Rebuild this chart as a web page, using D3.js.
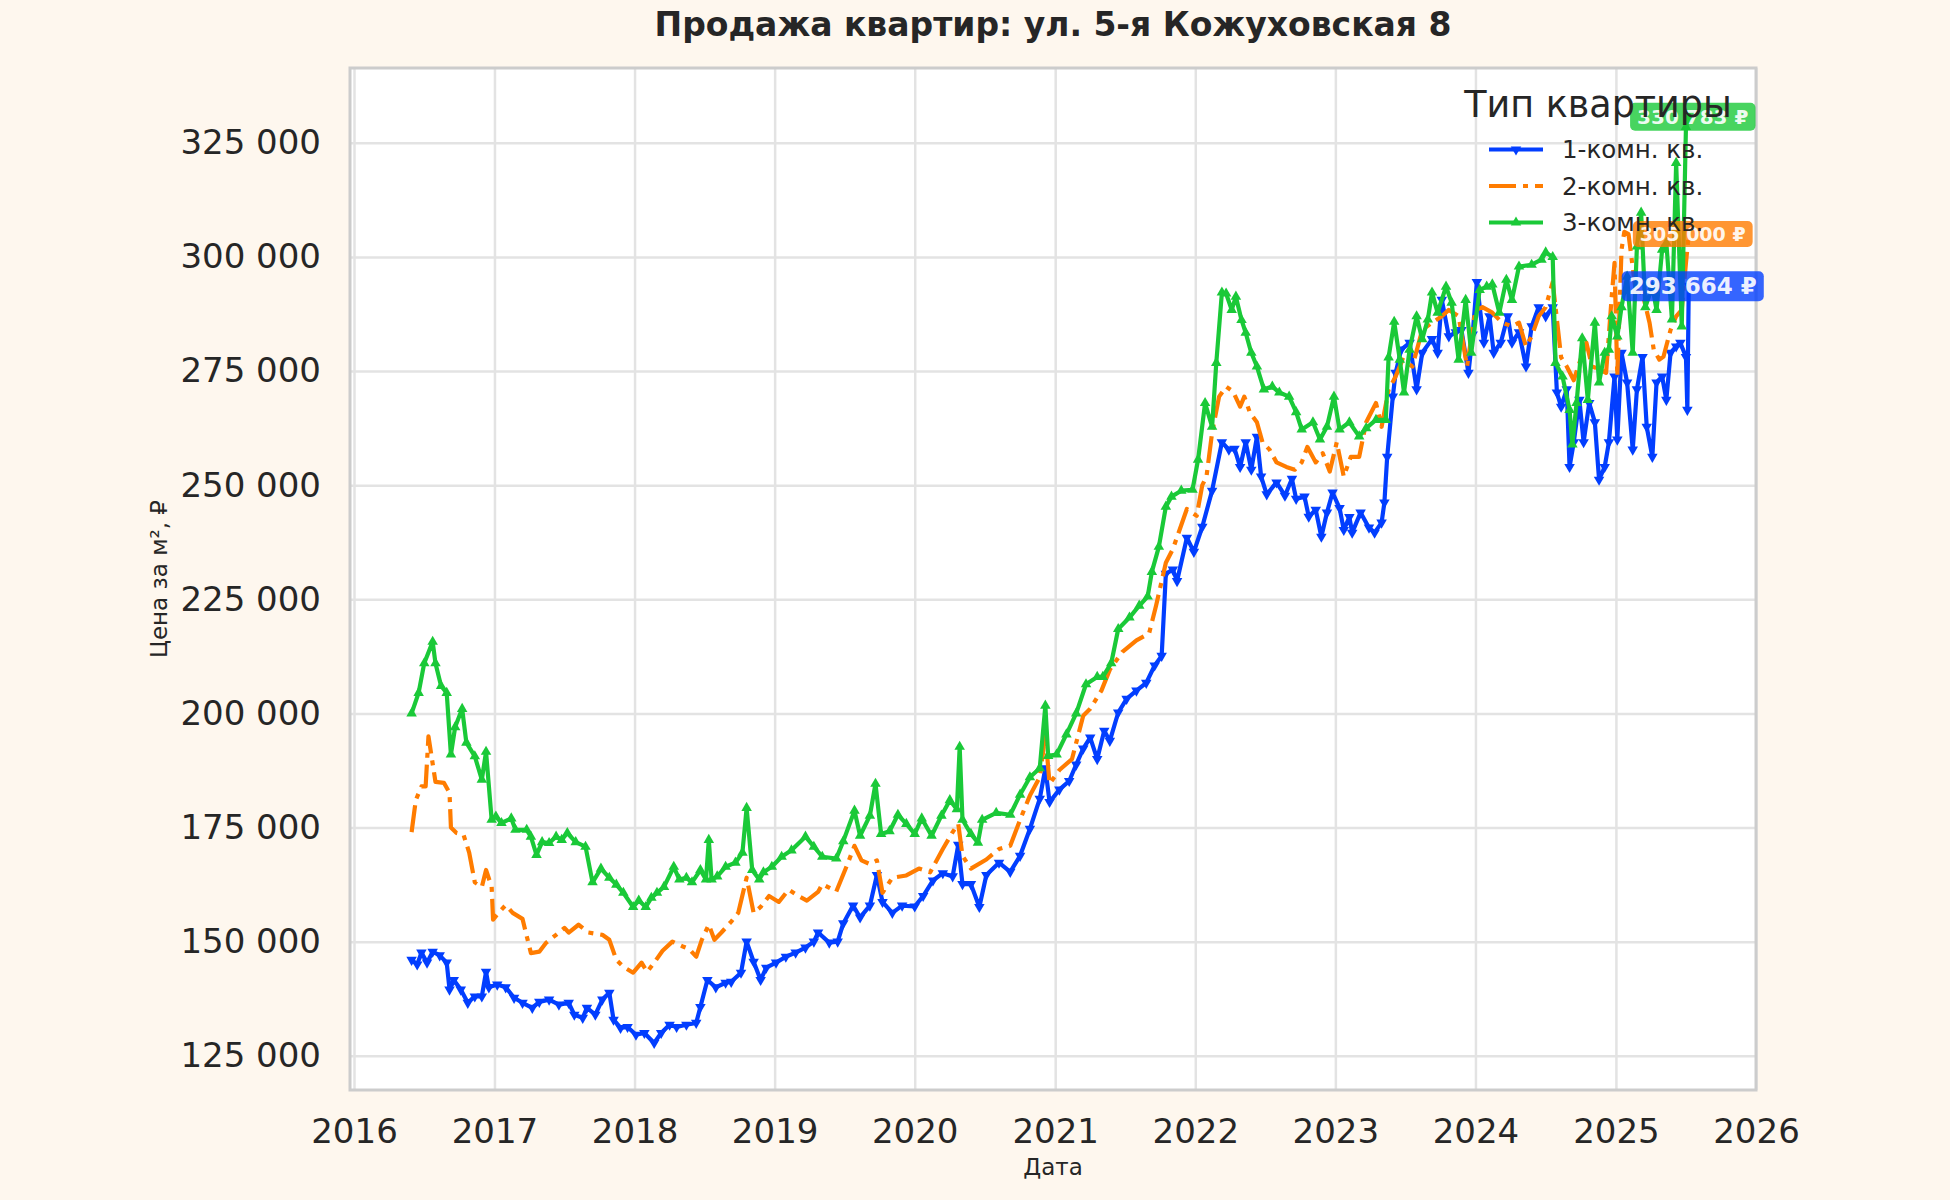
<!DOCTYPE html>
<html>
<head>
<meta charset="utf-8">
<style>
  body { margin: 0; background: #fef7ee; }
  svg { display: block; font-family: "DejaVu Sans", sans-serif; }
</style>
</head>
<body>
<svg id="chart" width="1950" height="1200"></svg>
<script src="https://cdn.jsdelivr.net/npm/d3@7"></script>
<script>

// values: decimal year and price per m2, rubles
var oneRoomT = [2016.41,2016.45,2016.48,2016.52,2016.56,2016.61,2016.66,2016.68,2016.71,2016.76,2016.81,2016.86,2016.91,2016.94,2016.96,
  2017.02,2017.08,2017.14,2017.20,2017.27,2017.32,2017.39,2017.46,2017.53,2017.57,2017.63,2017.66,2017.72,2017.77,2017.82,2017.85,2017.90,2017.95,
  2018.01,2018.07,2018.14,2018.19,2018.25,2018.30,2018.37,2018.44,2018.47,2018.52,2018.58,2018.65,2018.69,2018.76,2018.80,2018.85,2018.90,2018.94,
  2019.01,2019.08,2019.15,2019.22,2019.28,2019.31,2019.39,2019.45,2019.49,2019.56,2019.61,2019.68,2019.73,2019.77,2019.84,2019.91,
  2020.00,2020.06,2020.13,2020.20,2020.27,2020.31,2020.34,2020.40,2020.46,2020.51,2020.60,2020.68,2020.75,2020.82,2020.89,2020.93,2020.96,
  2021.03,2021.10,2021.15,2021.20,2021.25,2021.30,2021.35,2021.39,2021.45,2021.51,2021.58,2021.65,2021.71,2021.76,2021.79,2021.84,2021.87,2021.94,2021.99,
  2022.05,2022.12,2022.19,2022.24,2022.28,2022.32,2022.36,2022.40,2022.44,2022.47,2022.51,2022.58,2022.64,2022.69,2022.72,2022.78,2022.81,2022.86,2022.90,2022.94,2022.98,
  2023.03,2023.06,2023.10,2023.12,2023.18,2023.24,2023.28,2023.33,2023.35,2023.37,2023.41,2023.43,2023.47,2023.53,2023.58,2023.62,2023.69,2023.73,2023.76,2023.81,2023.86,2023.90,2023.95,2023.98,
  2024.01,2024.06,2024.10,2024.13,2024.18,2024.23,2024.26,2024.31,2024.36,2024.40,2024.45,2024.50,2024.55,2024.58,2024.61,2024.65,2024.67,2024.70,2024.74,2024.77,2024.81,2024.85,2024.88,2024.92,2024.95,2024.99,
  2025.01,2025.04,2025.08,2025.12,2025.15,2025.19,2025.22,2025.26,2025.29,2025.33,2025.36,2025.39,2025.43,2025.46,2025.50,2025.51,2025.52];
var oneRoomV = [146000,145000,147600,145400,147800,147000,145400,139500,141600,139500,136600,138000,138000,143400,140000,
  140600,140000,137700,136600,135500,136800,137300,136200,136600,134000,133300,135500,134000,137300,138800,132900,131100,131300,
  129600,130000,127800,130000,131800,131300,131800,132200,135700,141600,140000,141000,141200,143200,150000,145600,141600,144300,
  145400,146700,147600,148700,150000,152000,149800,150000,154000,157900,155300,157900,164600,158700,156300,157900,
  157700,160000,163400,165000,164300,171200,162600,162600,157600,164600,167300,165300,168800,174700,181300,188000,180600,
  183300,185200,188800,192300,194700,190000,196200,194000,200200,203200,205000,206700,210500,212600,230600,231500,229000,238500,235400,
  240900,248800,259400,257800,258000,254000,259400,253400,260600,251900,248000,250600,247700,251400,247000,247500,243100,244600,238700,244000,248400,
  245000,240200,243000,239600,244000,240700,239600,241800,246200,256200,269400,274600,279700,281200,271000,279000,282000,279000,290600,282600,283500,284000,274600,283000,
  294500,281200,287000,279000,281200,287000,281200,283500,276000,284800,289000,287000,289000,270300,267200,271000,254000,259400,268700,259400,268000,263800,251200,254000,259400,273800,
  260000,279000,272500,257800,271000,278100,262800,256200,272500,273800,268700,279000,280400,281200,278100,266500,293664];

var twoRoomT = [2016.41,2016.44,2016.48,2016.51,2016.53,2016.56,2016.58,2016.64,2016.68,2016.69,2016.73,2016.78,2016.82,2016.86,2016.91,2016.94,2016.98,2016.99,
  2017.02,2017.08,2017.13,2017.20,2017.26,2017.32,2017.37,2017.44,2017.50,2017.53,2017.60,2017.67,2017.77,2017.82,2017.87,2017.92,2017.99,
  2018.05,2018.09,2018.14,2018.20,2018.27,2018.34,2018.39,2018.44,2018.48,2018.53,2018.57,2018.62,2018.69,2018.74,2018.80,2018.85,2018.90,2018.96,
  2019.03,2019.10,2019.17,2019.23,2019.31,2019.34,2019.44,2019.52,2019.57,2019.62,2019.68,2019.73,2019.77,2019.84,2019.94,
  2020.03,2020.11,2020.20,2020.27,2020.31,2020.34,2020.40,2020.51,2020.60,2020.68,2020.75,2020.82,2020.89,2020.93,2020.96,
  2021.03,2021.12,2021.20,2021.25,2021.33,2021.39,2021.48,2021.58,2021.67,2021.72,2021.79,2021.84,2021.94,
  2022.01,2022.05,2022.08,2022.12,2022.17,2022.22,2022.27,2022.32,2022.35,2022.39,2022.44,2022.48,2022.53,2022.58,2022.65,2022.71,2022.76,2022.80,2022.86,2022.91,2022.96,
  2023.01,2023.06,2023.11,2023.17,2023.22,2023.29,2023.33,2023.38,2023.43,2023.48,2023.55,2023.62,2023.69,2023.76,2023.81,2023.88,2023.94,
  2024.00,2024.05,2024.12,2024.19,2024.26,2024.31,2024.36,2024.40,2024.45,2024.50,2024.55,2024.57,2024.61,2024.65,2024.70,2024.74,2024.79,2024.83,2024.88,2024.93,2024.97,2024.99,
  2025.01,2025.04,2025.06,2025.09,2025.14,2025.19,2025.24,2025.27,2025.31,2025.34,2025.39,2025.43,2025.47,2025.50,2025.52];
var twoRoomV = [174000,181000,184000,184000,195000,189000,185000,184800,182600,175000,173800,173400,169500,163000,162000,165700,162000,154800,
  156000,158000,156300,155000,147500,147800,149800,151500,153000,152000,153700,152000,151500,150400,146000,144500,143200,
  145400,143400,145400,148000,150000,149000,148400,146700,150400,153700,150400,152000,154400,156300,164000,156300,157600,160000,
  158700,161400,160000,159000,160900,162600,161000,167000,171000,167800,167000,167800,160700,164000,164500,
  166000,165200,170300,174000,175800,168800,166000,168000,170300,171000,176700,182000,186000,195400,184600,
  187600,190000,199500,201000,205000,209600,213500,216000,217500,223600,233000,236000,244800,
  243300,250000,251900,261500,269400,271600,270500,267200,269400,265900,263800,259400,257800,255000,254000,253400,255000,258400,255000,257000,253000,
  259400,251900,256200,256200,263800,268000,262800,270900,273800,277500,276000,284000,285600,287000,288400,287000,276000,
  288400,289000,287800,285600,284800,285600,280400,282600,287000,289000,294500,289000,278000,276000,273000,276800,281200,276000,275500,274600,291300,298700,
  273800,301600,305500,305000,292800,292000,285600,279700,277500,278200,284000,287000,288400,298700,305000];

var threeRoomT = [2016.41,2016.46,2016.50,2016.56,2016.58,2016.62,2016.66,2016.69,2016.72,2016.77,2016.80,2016.86,2016.91,2016.94,2016.98,
  2017.01,2017.05,2017.12,2017.15,2017.23,2017.26,2017.30,2017.34,2017.39,2017.44,2017.48,2017.52,2017.58,2017.65,2017.70,2017.76,2017.82,2017.87,2017.92,2017.99,
  2018.03,2018.08,2018.12,2018.16,2018.21,2018.28,2018.32,2018.37,2018.41,2018.47,2018.51,2018.53,2018.55,2018.59,2018.65,2018.72,2018.77,2018.80,2018.84,2018.89,2018.92,2018.98,
  2019.05,2019.12,2019.22,2019.28,2019.34,2019.44,2019.49,2019.57,2019.61,2019.68,2019.72,2019.76,2019.82,2019.88,2019.94,
  2020.00,2020.05,2020.12,2020.19,2020.25,2020.30,2020.32,2020.34,2020.40,2020.45,2020.48,2020.58,2020.68,2020.75,2020.82,2020.89,2020.93,2020.95,
  2021.01,2021.08,2021.15,2021.22,2021.30,2021.34,2021.40,2021.45,2021.53,2021.60,2021.66,2021.69,2021.74,2021.79,2021.83,2021.90,2021.98,
  2022.02,2022.07,2022.12,2022.15,2022.19,2022.22,2022.26,2022.29,2022.33,2022.36,2022.40,2022.44,2022.49,2022.55,2022.60,2022.67,2022.72,2022.76,2022.84,2022.89,2022.94,2022.99,
  2023.03,2023.10,2023.17,2023.22,2023.29,2023.36,2023.38,2023.42,2023.46,2023.49,2023.53,2023.58,2023.62,2023.66,2023.69,2023.73,2023.79,2023.83,2023.88,2023.93,2023.97,
  2024.03,2024.08,2024.12,2024.17,2024.22,2024.26,2024.31,2024.40,2024.47,2024.50,2024.55,2024.57,2024.62,2024.67,2024.69,2024.72,2024.76,2024.80,2024.85,2024.88,2024.92,2024.95,2024.97,
  2025.01,2025.04,2025.08,2025.12,2025.15,2025.18,2025.21,2025.26,2025.29,2025.33,2025.36,2025.40,2025.43,2025.47,2025.50,2025.52];
var threeRoomV = [200000,204500,211000,215700,211000,206000,204500,191000,197000,201000,193600,190600,185500,191600,176700,
  177400,176000,177000,174500,174500,173000,169000,171800,171600,173000,172300,173800,171800,170800,163000,166000,164000,162500,160700,157600,
  159000,157600,159600,160700,162000,166400,163600,164000,163000,165700,163600,172300,163600,164300,166400,167300,169500,179300,165700,163600,165200,166400,
  168600,170000,173000,170800,168600,168200,172000,178700,173200,177600,184600,173600,174200,177800,175800,
  173600,177000,173200,177600,181000,179000,192700,176700,173600,171700,176700,178200,177800,182200,186000,188000,201700,190700,
  191000,195400,200000,206400,208000,208000,211000,218500,221000,223600,225600,231000,236500,245300,247500,248800,249000,
  255600,268000,262800,276800,292200,292000,288400,291300,286200,283400,279000,276000,271000,271600,270300,269400,266000,262200,263800,260000,262800,269400,
  262200,263800,260700,262500,264300,264300,278000,285800,277500,270300,279700,287000,282000,286300,292200,287800,293500,290000,277500,290600,279000,
  292800,293500,294000,287800,295000,290600,297900,298300,299400,301000,300000,276800,273800,266500,258900,268000,282200,268700,285600,272500,279000,279700,287000,
  282600,289000,295700,279000,302300,309700,289000,293500,288400,301600,303100,286300,320600,284800,328500,330783];

var seriesNames = ["1-комн. кв.", "2-комн. кв.", "3-комн. кв."];
var seriesColors = ["#023eff", "#ff7c00", "#1ac938"];
var yTicks = [125000, 150000, 175000, 200000, 225000, 250000, 275000, 300000, 325000];
var xTickYears = [2016, 2017, 2018, 2019, 2020, 2021, 2022, 2023, 2024, 2025, 2026];

function yearToDate(t) {
  var yr = Math.floor(t);
  var a = Date.UTC(yr, 0, 1), b = Date.UTC(yr + 1, 0, 1);
  return new Date(a + (t - yr) * (b - a));
}
function zip(ts, vs) {
  return ts.map(function(t, i) { return [yearToDate(t), vs[i]]; });
}

var series = [
  { name: seriesNames[0], color: seriesColors[0], data: zip(oneRoomT, oneRoomV), marker: "down", dash: null, label: 23 },
  { name: seriesNames[1], color: seriesColors[1], data: zip(twoRoomT, twoRoomV), marker: null, dash: "27,7,5,7", label: 19 },
  { name: seriesNames[2], color: seriesColors[2], data: zip(threeRoomT, threeRoomV), marker: "up", dash: null, label: 20 }
];

var svg = d3.select("#chart"),
    plot = {left: 350, right: 1756, top: 68, bottom: 1090};

svg.append("rect")
    .attr("width", 1950).attr("height", 1200)
    .attr("fill", "#fef7ee");

var x = d3.scaleUtc()
    .domain([yearToDate(2016), yearToDate(2026)])
    .range([354, plot.right]);

var y = d3.scaleLinear()
    .domain([117500, 341400])
    .range([plot.bottom, plot.top]);

svg.append("rect")
    .attr("x", plot.left).attr("y", plot.top)
    .attr("width", plot.right - plot.left)
    .attr("height", plot.bottom - plot.top)
    .attr("fill", "#ffffff");

var fmt = function(d) { return d3.format(",")(d).replace(/,/g, " "); };

// y grid + labels
var gy = svg.append("g")
    .attr("transform", "translate(" + plot.left + ",0)")
    .call(d3.axisLeft(y).tickValues(yTicks).tickFormat(fmt)
      .tickSize(-(plot.right - plot.left)).tickPadding(29));
gy.select(".domain").remove();

// x grid + labels
var gx = svg.append("g")
    .attr("transform", "translate(0," + plot.bottom + ")")
    .call(d3.axisBottom(x).tickValues(xTickYears.map(yearToDate))
      .tickFormat(d3.utcFormat("%Y"))
      .tickSize(-(plot.bottom - plot.top)).tickPadding(29));
gx.select(".domain").remove();

svg.selectAll(".tick line")
    .attr("stroke", "#e3e3e3")
    .attr("stroke-width", 2.5);
svg.selectAll(".tick text")
    .attr("fill", "#262626")
    .style("font-size", "34px")
    .style("font-family", "DejaVu Sans, sans-serif");

// frame
svg.append("rect")
    .attr("x", plot.left).attr("y", plot.top)
    .attr("width", plot.right - plot.left)
    .attr("height", plot.bottom - plot.top)
    .attr("fill", "none")
    .attr("stroke", "#cccccc")
    .attr("stroke-width", 3);

svg.append("clipPath").attr("id", "clip")
  .append("rect")
    .attr("x", plot.left).attr("y", plot.top)
    .attr("width", plot.right - plot.left)
    .attr("height", plot.bottom - plot.top);

var line = d3.line()
    .x(function(d) { return x(d[0]); })
    .y(function(d) { return y(d[1]); });

var tri = d3.symbol().type(d3.symbolTriangle).size(48);

function drawSeries(s) {
  var g = svg.append("g").attr("clip-path", "url(#clip)");
  g.append("path")
      .datum(s.data)
      .attr("fill", "none")
      .attr("stroke", s.color)
      .attr("stroke-width", 4.2)
      .attr("stroke-linejoin", "round")
      .attr("stroke-dasharray", s.dash)
      .attr("d", line);
  if (s.marker) {
    g.selectAll("path.m")
        .data(s.data)
      .enter().append("path")
        .attr("class", "m")
        .attr("fill", s.color)
        .attr("d", tri)
        .attr("transform", function(d) {
          return "translate(" + x(d[0]) + "," + y(d[1]) + ")" + (s.marker == "down" ? " rotate(180)" : "");
        });
  }
}

function drawLabel(s) {
  var last = s.data[s.data.length - 1];
  var g = svg.append("g");
  var t = g.append("text")
      .attr("x", x(last[0]) + 4)
      .attr("y", y(last[1]))
      .attr("text-anchor", "middle")
      .attr("dy", "0.36em")
      .attr("fill", "#ffffff")
      .attr("fill-opacity", 0.92)
      .style("font-weight", "bold")
      .style("font-size", s.label + "px")
      .text(fmt(Math.round(last[1])) + " ₽");
  var bb = t.node().getBBox();
  g.insert("rect", "text")
      .attr("x", bb.x - 7).attr("y", bb.y - 2)
      .attr("width", bb.width + 14).attr("height", bb.height + 4)
      .attr("rx", 5)
      .attr("fill", s.color)
      .attr("fill-opacity", 0.8);
}

series.forEach(drawSeries);
series.forEach(drawLabel);

// title and axis labels
svg.append("text")
    .attr("x", (plot.left + plot.right) / 2).attr("y", 36)
    .attr("text-anchor", "middle")
    .attr("fill", "#262626")
    .style("font-weight", "bold")
    .style("font-size", "33px")
    .text("Продажа квартир: ул. 5-я Кожуховская 8");

svg.append("text")
    .attr("x", (plot.left + plot.right) / 2).attr("y", 1175)
    .attr("text-anchor", "middle")
    .attr("fill", "#262626")
    .style("font-size", "23px")
    .text("Дата");

svg.append("text")
    .attr("transform", "translate(167," + (plot.top + plot.bottom) / 2 + ") rotate(-90)")
    .attr("text-anchor", "middle")
    .attr("fill", "#262626")
    .style("font-size", "23px")
    .text("Цена за м², ₽");

// legend
var lg = svg.append("g");
lg.append("text")
    .attr("x", 1598).attr("y", 117)
    .attr("text-anchor", "middle")
    .attr("fill", "#262626")
    .style("font-size", "36.5px")
    .text("Тип квартиры");

series.forEach(function(s, i) {
  var cy = 149.5 + i * 36.5;
  lg.append("line")
      .attr("x1", 1489).attr("x2", 1543)
      .attr("y1", cy).attr("y2", cy)
      .attr("stroke", s.color)
      .attr("stroke-width", 4.2)
      .attr("stroke-dasharray", s.dash);
  if (s.marker) {
    lg.append("path")
        .attr("fill", s.color)
        .attr("d", tri)
        .attr("transform", "translate(1516," + cy + ")" + (s.marker == "down" ? " rotate(180)" : ""));
  }
  lg.append("text")
      .attr("x", 1562).attr("y", cy + 8.5)
      .attr("fill", "#262626")
      .style("font-size", "24.5px")
      .text(s.name);
});

</script>
</body>
</html>
